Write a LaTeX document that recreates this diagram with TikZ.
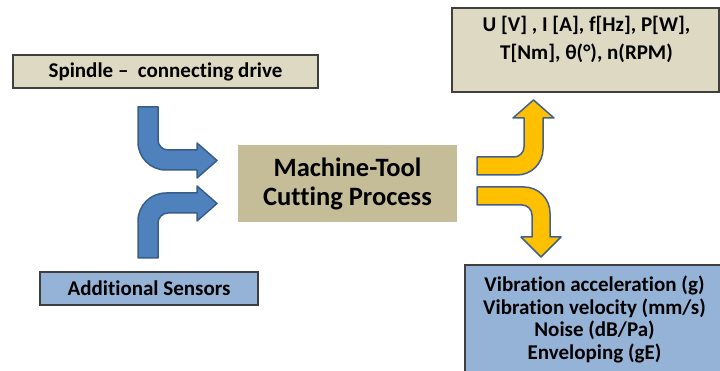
\documentclass[tikz,border=0pt]{standalone}
\usepackage{fontspec}
\setmainfont{Carlito}[Ligatures=CommonOff]
\usetikzlibrary{positioning}
\definecolor{boxbeige}{HTML}{DDD9C3}
\definecolor{procbeige}{HTML}{C4BD97}
\definecolor{boxblue}{HTML}{95B3D7}
\definecolor{arrblue}{HTML}{4F81BD}
\definecolor{arrblueline}{HTML}{385D8A}
\definecolor{arrorange}{HTML}{FFC000}
\definecolor{arrorangeline}{HTML}{41618A}
\definecolor{boxline}{HTML}{3F3F3F}

\begin{document}
\begin{tikzpicture}[x=1pt,y=-1pt,
  inbox/.style={draw=boxline,line width=1.2pt,inner sep=0pt,minimum height=33pt,font=\fontsize{21}{24}\selectfont\bfseries},
  outbox/.style={draw=boxline,line width=1.2pt,inner sep=0pt},
  proc/.style={fill=procbeige,inner sep=0pt,minimum width=219pt,minimum height=77pt,align=center,font=\fontsize{26.5}{29}\selectfont\bfseries},
  outtext/.style={inner sep=0pt,align=center,font=\bfseries},
  inarr/.style={fill=arrblue,draw=arrblueline,line width=1.5pt,line join=round},
  outarr/.style={fill=arrorange,draw=arrorangeline,line width=1.5pt,line join=round},
]
\useasboundingbox (0,0) rectangle (720,371);

  % inputs
  \node[inbox,fill=boxbeige,minimum width=305pt] (spindle) at (165.5,71.5) {Spindle –\ \ connecting drive};
  \node[inbox,fill=boxblue,minimum width=218pt] (sensors) at (149,288.5) {Additional Sensors};

  % process
  \node[proc] (process) at (347.5,183.5) {Machine-Tool\\Cutting Process};

  % outputs
  \node[outbox,fill=boxbeige,minimum width=267pt,minimum height=84pt] (electric) at (585.5,50) {};
  \node[outtext,font=\fontsize{21}{28}\selectfont\bfseries,anchor=north] (electriclbl) at (586.5,16) {U [V] , I [A], f[Hz], P[W],\\T[Nm], θ(°), n(RPM)};
  \node[outbox,fill=boxblue,minimum width=257pt,minimum height=107.5pt] (vibration) at (593.5,318.75) {};
  \node[outtext,font=\fontsize{21}{22.5}\selectfont\bfseries] (vibrationlbl) at (594.5,319.5) {Vibration acceleration (g)\\Vibration velocity (mm/s)\\Noise (dB/Pa)\\Enveloping (gE)};

  % block arrows into the process
  \draw[inarr] (138,107) -- (138,142) .. controls (138,157.5) and (150.5,170) .. (166,170) -- (197,170) -- (197,178)
    -- (217,160.5) -- (197,143) -- (197,150) -- (168,150) .. controls (162.5,150) and (158,145.5) .. (158,140) -- (158,107) -- cycle;
  \draw[inarr] (138,258) -- (138,221) .. controls (138,205.5) and (150.5,193) .. (166,193) -- (197,193) -- (197,186)
    -- (217,203.5) -- (197,221) -- (197,213) -- (168,213) .. controls (162.5,213) and (158,217.5) .. (158,223) -- (158,258) -- cycle;

  % block arrows out of the process
  \draw[outarr] (477,157) -- (514,157) .. controls (519.5,157) and (524,152.5) .. (524,147) -- (524,118) -- (513,118)
    -- (533.5,100) -- (554,118) -- (543,118) -- (543,149) .. controls (543,163.4) and (531.4,175) .. (517,175) -- (477,175) -- cycle;
  \draw[outarr] (477,205) -- (522,205) .. controls (527.5,205) and (532,209.5) .. (532,215) -- (532,237) -- (521,237)
    -- (541,257) -- (561,237) -- (550,237) -- (550,213) .. controls (550,198.6) and (538.4,187) .. (524,187) -- (477,187) -- cycle;
\end{tikzpicture}
\end{document}
